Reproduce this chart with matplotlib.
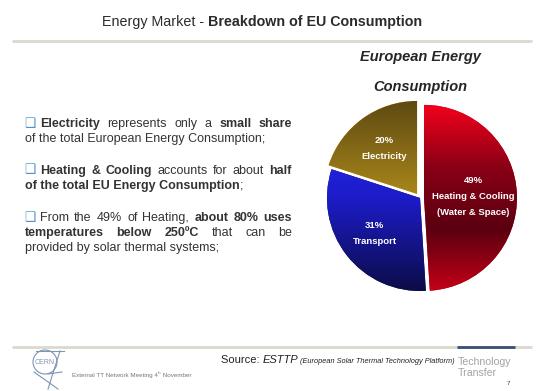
import numpy as np
import matplotlib
matplotlib.use("Agg")
import matplotlib.pyplot as plt
from matplotlib.colors import LinearSegmentedColormap
from matplotlib.patches import Circle

# pie data
labels = ["Electricity", "Transport", "Heating & Cooling\n(Water & Space)"]
shares = [20, 31, 49]
explode = [5, 0, 4]
grad_colors = [
    ["#5e4912", "#a8861a", "#f0c021"],             # electricity
    ["#2a2aff", "#1c1cc8", "#0c0c48"],             # transport
    ["#f2001c", "#8a0016", "#5a0010", "#c40018"],  # heating
]

# left text, one list of (text, style) runs per line
para_lines = [
    ([("Electricity", "b"), (" represents only a ", "r"), ("small share", "b")], True, 123),
    ([("of the total European Energy Consumption;", "r")], False, 138),
    ([("Heating & Cooling", "b"), (" accounts for about ", "r"), ("half", "b")], True, 170),
    ([("of the total EU Energy Consumption", "b"), (";", "r")], False, 185),
    ([("From the 49% of Heating, ", "r"), ("about 80% uses", "b")], True, 217),
    ([("temperatures below 250ºC", "b"), (" that can be", "r")], True, 232),
    ([("provided by solar thermal systems;", "r")], False, 247),
]
bullet_lines = [123, 170, 217]

W, H = 549, 391
SANS = ["Liberation Sans", "DejaVu Sans"]
plt.rcParams["font.family"] = SANS

fig = plt.figure(figsize=(W / 100, H / 100), dpi=100)
ax = fig.add_axes([0, 0, 1, 1])
rend = fig.canvas.get_renderer()

STY = {"r": dict(fontweight="normal", fontstyle="normal"),
       "b": dict(fontweight="bold", fontstyle="normal"),
       "i": dict(fontweight="normal", fontstyle="italic")}


def text_w(s, fs, st="r"):
    # width including trailing / leading spaces
    t = ax.text(0, 0, "|" + s + "|", fontsize=fs, **STY[st])
    t2 = ax.text(0, 0, "||", fontsize=fs, **STY[st])
    w = t.get_window_extent(renderer=rend).width - t2.get_window_extent(renderer=rend).width
    t.remove(); t2.remove()
    return w


def split_words(runs):
    words, new = [], True
    for txt, st in runs:
        for i, p in enumerate(txt.split(" ")):
            if i > 0:
                new = True
            if p == "":
                continue
            if new:
                words.append([])
                new = False
            words[-1].append((p, st))
    return words


def put_runs(x0, y, runs, size, color="#333333", sizes=None, center=None, right_end=None):
    # each run is one text; runs are placed side by side
    items = []
    for txt, st in runs:
        fs = sizes.get(st, size) if sizes else size
        items.append((txt, st, fs, text_w(txt, fs, st.rstrip("s"))))
    total = sum(it[3] for it in items)
    if center is not None:
        x0 = center - total / 2
    if right_end is not None:
        x0 = right_end - total
    x = x0
    for txt, st, fs, wd in items:
        ax.text(x, H - y, txt, fontsize=fs, color=color, va="baseline", ha="left",
                **STY[st.rstrip("s")])
        x += wd
    return x


def put_justified(x0, y, runs, size, right, color="#333333"):
    words = split_words(runs)
    widths = []
    for w in words:
        widths.append(sum(text_w(p, size, st) for p, st in w))
    gap = (right - x0 - sum(widths)) / (len(words) - 1)
    x = x0
    for w, wd in zip(words, widths):
        xx = x
        for p, st in w:
            ax.text(xx, H - y, p, fontsize=size, color=color, va="baseline", ha="left", **STY[st])
            xx += text_w(p, size, st)
        x += wd + gap


# header
put_runs(0, 26, [("Energy Market - ", "r"), ("Breakdown of EU Consumption", "b")],
         10.3, color="#2b2b2b", center=262)
ax.plot([12, 532], [H - 41, H - 41], color="#dcd8cc", lw=2, solid_capstyle="butt")

# paragraphs
for runs, just, y in para_lines:
    x0 = 25
    if y in bullet_lines:
        ax.text(24, H - y - 3.5, "❑", fontsize=9, color="#4f8fd0", family="DejaVu Sans",
                va="baseline", ha="left")
        x0 = 40
    if just:
        put_justified(x0, y + 4, runs, 9, right=292)
    else:
        put_runs(x0, y + 4, runs, 9)

# pie
wedges, _ = ax.pie(shares, startangle=90, counterclock=True, center=(420, H - 198),
                   radius=93, explode=explode, colors=[c[-1] for c in grad_colors],
                   wedgeprops=dict(linewidth=0))
label_dist = [0.6, 0.62, 0.53]
for w, cols, lab, sh, d in zip(wedges, grad_colors, labels, shares, label_dist):
    cx, cy = w.center
    r = w.r
    cmap = LinearSegmentedColormap.from_list("g", cols)
    grad = np.linspace(0, 1, 256).reshape(-1, 1)
    im = ax.imshow(grad, cmap=cmap, aspect="auto", interpolation="bilinear",
                   extent=(cx - r, cx + r, cy - r, cy + r), origin="upper", zorder=2)
    im.set_clip_path(w)
    th = np.deg2rad((w.theta1 + w.theta2) / 2)
    ax.text(cx + d * r * np.cos(th), cy + d * r * np.sin(th), f"{sh}%\n{lab}",
            ha="center", va="center", color="white", fontsize=6.8, fontweight="bold",
            linespacing=2.0, zorder=3)

ax.text(420, H - 57, "European Energy", ha="center", va="center", fontsize=10.5,
        fontweight="bold", fontstyle="italic", color="#262626")
ax.text(420, H - 87, "Consumption", ha="center", va="center", fontsize=10.5,
        fontweight="bold", fontstyle="italic", color="#262626")

# footer
ax.plot([12, 532], [H - 347, H - 347], color="#dcd8cc", lw=2, solid_capstyle="butt")
ax.plot([457, 515], [H - 346.5, H - 346.5], color="#3b4e78", lw=2, solid_capstyle="butt")
put_runs(0, 363, [("Source: ", "r"), ("ESTTP", "i"),
                  (" (European Solar Thermal Technology Platform)", "is")],
         8, color="#222222", sizes={"is": 5.3}, right_end=455)
ax.text(458, H - 365, "Technology", fontsize=7.6, color="#a3a3a3", va="baseline")
ax.text(458, H - 376, "Transfer", fontsize=7.6, color="#a3a3a3", va="baseline")
ax.text(508, H - 385, "7", fontsize=4.5, color="#333333", va="baseline", ha="center")
xe = put_runs(72, 377, [("External TT Network Meeting 4", "r")], 4.5, color="#777777")
ax.text(xe, H - 374.5, "th", fontsize=3, color="#777777", va="baseline")
put_runs(xe + text_w("th", 3), 377, [(" November", "r")], 4.5, color="#777777")

# CERN logo
lc = "#7f94b4"
ax.add_patch(Circle((45, H - 362), 12, fill=False, ec=lc, lw=0.8))
ax.text(45, H - 362, "CERN", fontsize=5, color=lc, ha="center", va="center")
ax.plot([36, 64], [H - 351, H - 351], color=lc, lw=0.8)
ax.plot([60, 48], [H - 351, H - 389], color=lc, lw=0.8)
ax.plot([34, 58], [H - 372, H - 389], color=lc, lw=0.8)
ax.plot([48, 62], [H - 374, H - 372], color=lc, lw=0.8)

ax.set_xlim(0, W)
ax.set_ylim(0, H)
ax.set_aspect("auto")
ax.axis("off")
fig.savefig("out.png", dpi=100, facecolor="white")
